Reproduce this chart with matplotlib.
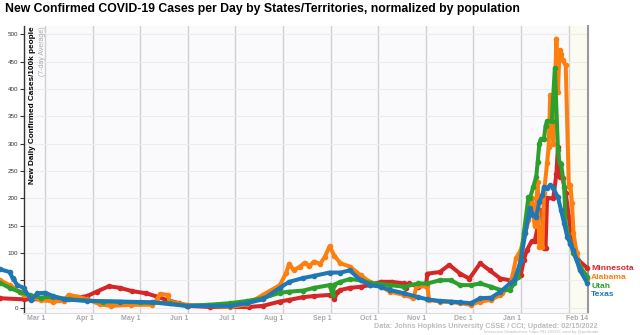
import datetime as dt
import matplotlib
matplotlib.use("Agg")
import matplotlib.pyplot as plt

plt.rcParams['font.family'] = ['Liberation Sans', 'DejaVu Sans']

# values (cases / 100k, 7-day avg)
mn_dates = ['2021-01-31', '2021-02-15', '2021-03-01', '2021-03-15', '2021-03-28', '2021-04-03', '2021-04-11',
            '2021-04-18', '2021-04-26', '2021-05-05', '2021-05-12', '2021-05-18', '2021-05-26', '2021-06-01',
            '2021-06-15', '2021-07-10', '2021-07-19', '2021-07-30', '2021-08-05', '2021-08-14', '2021-08-21',
            '2021-08-31', '2021-09-02', '2021-09-03', '2021-09-05', '2021-09-07', '2021-09-13', '2021-09-20',
            '2021-09-26', '2021-10-03', '2021-10-10', '2021-10-18', '2021-10-19', '2021-10-21', '2021-10-27',
            '2021-11-01', '2021-11-02', '2021-11-10', '2021-11-16', '2021-11-23', '2021-11-29', '2021-12-06',
            '2021-12-12', '2021-12-19', '2021-12-25', '2021-12-28', '2022-01-01', '2022-01-03', '2022-01-05',
            '2022-01-08', '2022-01-10', '2022-01-12', '2022-01-13', '2022-01-15', '2022-01-16', '2022-01-17',
            '2022-01-18', '2022-01-22', '2022-01-24', '2022-01-25', '2022-01-26', '2022-01-28', '2022-01-30',
            '2022-02-01', '2022-02-03', '2022-02-05', '2022-02-07', '2022-02-13']
mn_vals = [17, 15, 15, 15, 21, 29, 39,
           36, 30, 26, 20, 14, 8, 3,
           1, 1, 3, 11, 14, 19, 21,
           23, 23, 15, 28, 32, 36, 38,
           41, 47, 47, 44, 36, 44, 38,
           40, 62, 65, 78, 62, 53, 81,
           68, 53, 50, 53, 59, 87, 105,
           121, 121, 148, 178, 178, 109, 109,
           200, 200, 245, 294, 239, 237, 209,
           166, 123, 105, 87, 72]

al_dates = ['2021-01-31', '2021-02-06', '2021-02-13', '2021-02-15', '2021-02-26', '2021-03-06', '2021-03-13',
            '2021-03-16', '2021-03-22', '2021-03-28', '2021-04-05', '2021-04-12', '2021-04-25', '2021-05-09',
            '2021-05-12', '2021-05-14', '2021-05-19', '2021-05-20', '2021-05-31', '2021-06-28', '2021-07-09',
            '2021-07-19', '2021-07-30', '2021-08-03', '2021-08-05', '2021-08-08', '2021-08-12', '2021-08-15',
            '2021-08-18', '2021-08-21', '2021-08-25', '2021-08-28', '2021-08-31', '2021-09-03', '2021-09-07',
            '2021-09-13', '2021-09-20', '2021-09-26', '2021-10-03', '2021-10-09', '2021-10-18', '2021-10-24',
            '2021-10-26', '2021-11-02', '2021-11-03', '2021-11-10', '2021-11-17', '2021-11-23', '2021-11-30',
            '2021-12-06', '2021-12-13', '2021-12-19', '2021-12-20', '2021-12-25', '2021-12-27', '2021-12-29',
            '2022-01-01', '2022-01-04', '2022-01-06', '2022-01-08', '2022-01-10', '2022-01-12', '2022-01-13',
            '2022-01-15', '2022-01-16', '2022-01-18', '2022-01-19', '2022-01-20', '2022-01-22', '2022-01-24',
            '2022-01-25', '2022-01-26', '2022-01-27', '2022-01-28', '2022-01-30', '2022-02-01', '2022-02-02',
            '2022-02-03', '2022-02-04', '2022-02-06', '2022-02-08', '2022-02-13']
al_vals = [50, 41, 28, 23, 14, 11, 12,
           23, 20, 15, 6, 3, 5, 5,
           15, 25, 23, 11, 5, 1, 6,
           23, 41, 63, 80, 68, 75, 82,
           76, 84, 80, 93, 112, 95, 81,
           75, 59, 47, 38, 29, 23, 17,
           39, 39, 14, 11, 10, 8, 5,
           11, 14, 23, 26, 38, 62, 90,
           105, 136, 160, 200, 150, 230, 111,
           111, 210, 264, 294, 388, 300, 492,
           394, 471, 464, 452, 443, 221, 224,
           191, 136, 100, 75, 53]

ut_dates = ['2021-01-31', '2021-02-06', '2021-02-13', '2021-02-19', '2021-02-26', '2021-03-06', '2021-03-16',
            '2021-04-07', '2021-05-01', '2021-05-20', '2021-05-31', '2021-06-14', '2021-06-28', '2021-07-09',
            '2021-07-19', '2021-07-30', '2021-08-05', '2021-08-14', '2021-08-21', '2021-08-31', '2021-09-02',
            '2021-09-03', '2021-09-07', '2021-09-13', '2021-09-20', '2021-09-26', '2021-10-03', '2021-10-09',
            '2021-10-18', '2021-10-27', '2021-11-02', '2021-11-10', '2021-11-17', '2021-11-23', '2021-11-30',
            '2021-12-06', '2021-12-13', '2021-12-19', '2021-12-25', '2021-12-28', '2021-12-30', '2022-01-01',
            '2022-01-03', '2022-01-06', '2022-01-07', '2022-01-09', '2022-01-11', '2022-01-12', '2022-01-13',
            '2022-01-14', '2022-01-16', '2022-01-17', '2022-01-18', '2022-01-21', '2022-01-23', '2022-01-25',
            '2022-01-26', '2022-01-27', '2022-01-29', '2022-01-30', '2022-02-02', '2022-02-04', '2022-02-08',
            '2022-02-13']
ut_vals = [45, 36, 28, 23, 18, 20, 15,
           11, 9.5, 8, 3, 5, 8, 12,
           17, 27, 29, 31, 36, 41, 23,
           42, 47, 52, 50, 45, 43, 41,
           38, 44, 44, 50, 50, 41, 41,
           44, 38, 32, 32, 45, 56, 87,
           136, 202, 200, 220, 239, 267, 300,
           308, 308, 332, 341, 341, 438, 288,
           264, 263, 221, 148, 118, 99, 75,
           56]

tx_dates = ['2021-01-31', '2021-02-06', '2021-02-08', '2021-02-11', '2021-02-15', '2021-02-20', '2021-02-24',
            '2021-03-01', '2021-03-06', '2021-03-13', '2021-03-28', '2021-04-18', '2021-05-09', '2021-05-31',
            '2021-06-28', '2021-07-09', '2021-07-19', '2021-07-30', '2021-08-05', '2021-08-14', '2021-08-21',
            '2021-08-31', '2021-09-07', '2021-09-13', '2021-09-20', '2021-09-26', '2021-10-03', '2021-10-09',
            '2021-10-18', '2021-10-27', '2021-11-02', '2021-11-10', '2021-11-17', '2021-11-23', '2021-11-30',
            '2021-12-06', '2021-12-13', '2021-12-19', '2021-12-25', '2021-12-28', '2022-01-01', '2022-01-04',
            '2022-01-06', '2022-01-07', '2022-01-09', '2022-01-11', '2022-01-13', '2022-01-15', '2022-01-16',
            '2022-01-18', '2022-01-20', '2022-01-22', '2022-01-25', '2022-01-27', '2022-01-29', '2022-01-31',
            '2022-02-02', '2022-02-04', '2022-02-06', '2022-02-08', '2022-02-13']
tx_vals = [70, 65, 54, 41, 36, 14, 26,
           27, 21, 15, 12, 11, 9.5, 3,
           3, 8, 15, 36, 47, 54, 58,
           64, 64, 68, 50, 41, 38, 32,
           26, 19, 15, 12, 11, 9.5, 8,
           17, 18, 29, 44, 50, 85, 136,
           166, 182, 169, 166, 193, 206, 221,
           218, 224, 218, 202, 178, 154, 129,
           117, 105, 87, 69, 44]

states = ['Minnesota', 'Alabama', 'Utah', 'Texas']
colors = ['#d62728', '#ff7f0e', '#2ca02c', '#1f77b4']
series = [(mn_dates, mn_vals), (al_dates, al_vals), (ut_dates, ut_vals), (tx_dates, tx_vals)]

fig = plt.figure(figsize=(6.4, 3.35), dpi=100)
ax = fig.add_axes([23.5 / 640, 1 - 313 / 335, (588 - 23.5) / 640, (313 - 26) / 335])
ax.set_facecolor('#fafafd')

x0 = dt.datetime(2021, 2, 15)
x1 = dt.datetime(2022, 2, 13, 8)
ax.set_xlim(x0, x1)
ax.set_ylim(-10, 515)

# shaded last stretch
ax.axvspan(dt.datetime(2022, 2, 1), x1, color='#fbfbf2', zorder=0)

ax.set_yticks(range(0, 501, 50))
ax.grid(axis='y', color='#ececf0', lw=0.8)
ax.tick_params(axis='y', labelsize=4.5, length=3, width=0.8, colors='#333333', pad=1)

month_ticks = [dt.datetime(2021, m, 1) for m in range(3, 13)] + [dt.datetime(2022, 1, 1), dt.datetime(2022, 2, 1)]
for t in month_ticks:
    ax.axvline(t, color='#d0d0d0', lw=1.0, zorder=1)
tick_pos = month_ticks[:-1] + [x1]
tick_lab = [t.strftime('%b ') + str(t.day) for t in month_ticks[:-1]] + ['Feb 14']
ax.set_xticks(tick_pos)
ax.set_xticklabels(tick_lab, ha='right', fontsize=5, color='#aaaaaa', fontweight='bold')
ax.tick_params(axis='x', length=0, pad=1.5)

ax.spines['top'].set_visible(False)
ax.spines['bottom'].set_color('#dddddd')
ax.spines['right'].set_color('#999999')
ax.spines['right'].set_linewidth(1.5)
ax.spines['left'].set_color('#333333')
ax.spines['left'].set_linewidth(1.0)

for i, (name, c, (d, v)) in enumerate(zip(states, colors, series)):
    dates = [dt.datetime.strptime(s, '%Y-%m-%d') for s in d]
    ax.plot(dates, v, color=c, lw=2.9, marker='o', ms=3, solid_joinstyle='round',
            clip_on=False, zorder=3 + i)

label_y = [268, 277.5, 286, 294.5]
for name, c, yy in zip(states, colors, label_y):
    fig.text(591 / 640, 1 - yy / 335, name, color=c, fontsize=6.1, fontweight='bold', va='center', ha='left')

fig.text(5 / 640, 1 - 9 / 335, 'New Confirmed COVID-19 Cases per Day by States/Territories, normalized by population',
         fontsize=8.8, fontweight='bold', va='center', ha='left')

ax.text(0.01, 1.0, 'New Daily Confirmed Cases/100k people', transform=ax.transAxes, rotation=90,
        fontsize=5.9, fontweight='bold', va='top', ha='left')
ax.text(0.028, 1.0, '(7-day Average)', transform=ax.transAxes, rotation=90,
        fontsize=5, color='#aaaaaa', va='top', ha='left')

fig.text(598 / 640, 1 - 326 / 335, 'Data: Johns Hopkins University CSSE / CCI; Updated: 02/15/2022',
         fontsize=5.2, color='#bbbbbb', fontweight='bold', ha='right', va='center')
fig.text(598 / 640, 1 - 332 / 335, 'Interactive Visualization: https://91-DIVOC.com/ by @profwade',
         fontsize=3, color='#bbbbbb', ha='right', va='center')

fig.savefig('out.png', dpi=100, facecolor='white')
